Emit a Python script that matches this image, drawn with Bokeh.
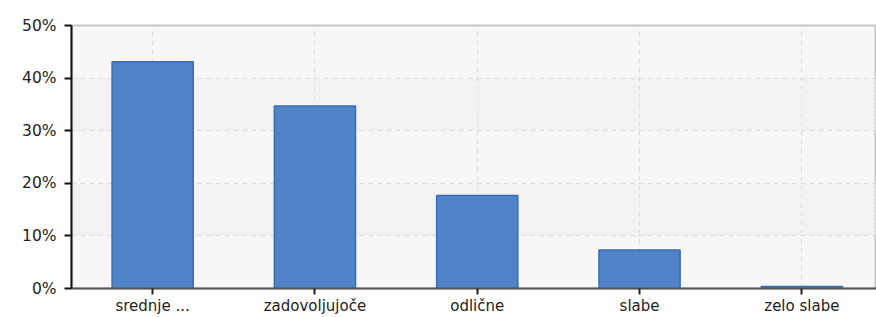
from bokeh.plotting import figure
from bokeh.models import Range1d, FixedTicker, ColumnDataSource
from bokeh.embed import file_html
from bokeh.resources import INLINE

categories = ["srednje ...", "zadovoljujoče", "odlične", "slabe", "zelo slabe"]
values = [43.1, 34.7, 17.7, 7.3, 0.4]
y_ticks = [0, 10, 20, 30, 40, 50]
y_tick_labels = ["0%", "10%", "20%", "30%", "40%", "50%"]

xs = list(range(len(categories)))
src = ColumnDataSource(dict(x=xs, top=values))

p = figure(width=876, height=317, output_backend="svg", toolbar_location=None,
           x_range=Range1d(-0.5, 4.46), y_range=Range1d(0, 50),
           min_border_left=71, min_border_right=0, min_border_top=25, min_border_bottom=10)

p.background_fill_color = "#f7f7f7"
p.border_fill_color = "white"
p.outline_line_color = "#c8c8c8"
p.outline_line_width = 2

p.vbar(x="x", top="top", width=0.5, source=src, fill_color="#4f84c8",
       line_color="#3a6cb3", line_width=1.5)

p.xaxis.ticker = FixedTicker(ticks=xs)
p.xaxis.major_label_overrides = {i: c for i, c in enumerate(categories)}
p.yaxis.ticker = FixedTicker(ticks=y_ticks)
p.yaxis.major_label_overrides = {t: l for t, l in zip(y_ticks, y_tick_labels)}

for ax in (p.xaxis, p.yaxis):
    ax.major_label_text_font = "DejaVu Sans"
    ax.major_label_text_color = "#222222"
    ax.minor_tick_line_color = None
    ax.major_tick_in = 0

p.xaxis.major_label_text_font_size = "15px"
p.xaxis.major_label_text_line_height = 0.6
p.yaxis.major_label_text_font_size = "15.5px"
p.yaxis.major_tick_out = 7
p.yaxis.major_label_standoff = 8
p.xaxis.major_tick_out = 6
p.xaxis.major_label_standoff = 2

p.yaxis.axis_line_color = "#111111"
p.yaxis.axis_line_width = 2
p.yaxis.major_tick_line_color = "#111111"
p.yaxis.major_tick_line_width = 2
p.xaxis.axis_line_color = "#555555"
p.xaxis.axis_line_width = 2
p.xaxis.major_tick_line_color = "#222222"
p.xaxis.major_tick_line_width = 2

p.xgrid.grid_line_color = "#dcdcdc"
p.xgrid.grid_line_dash = "5 4"
p.ygrid.grid_line_color = "#dcdcdc"
p.ygrid.grid_line_dash = "5 4"
p.ygrid.band_hatch_pattern = "right_diagonal_line"
p.ygrid.band_hatch_color = "#ececec"
p.ygrid.band_hatch_scale = 4
p.ygrid.band_hatch_weight = 1
p.ygrid.band_fill_color = None

open("out.html", "w").write(file_html(p, INLINE))
